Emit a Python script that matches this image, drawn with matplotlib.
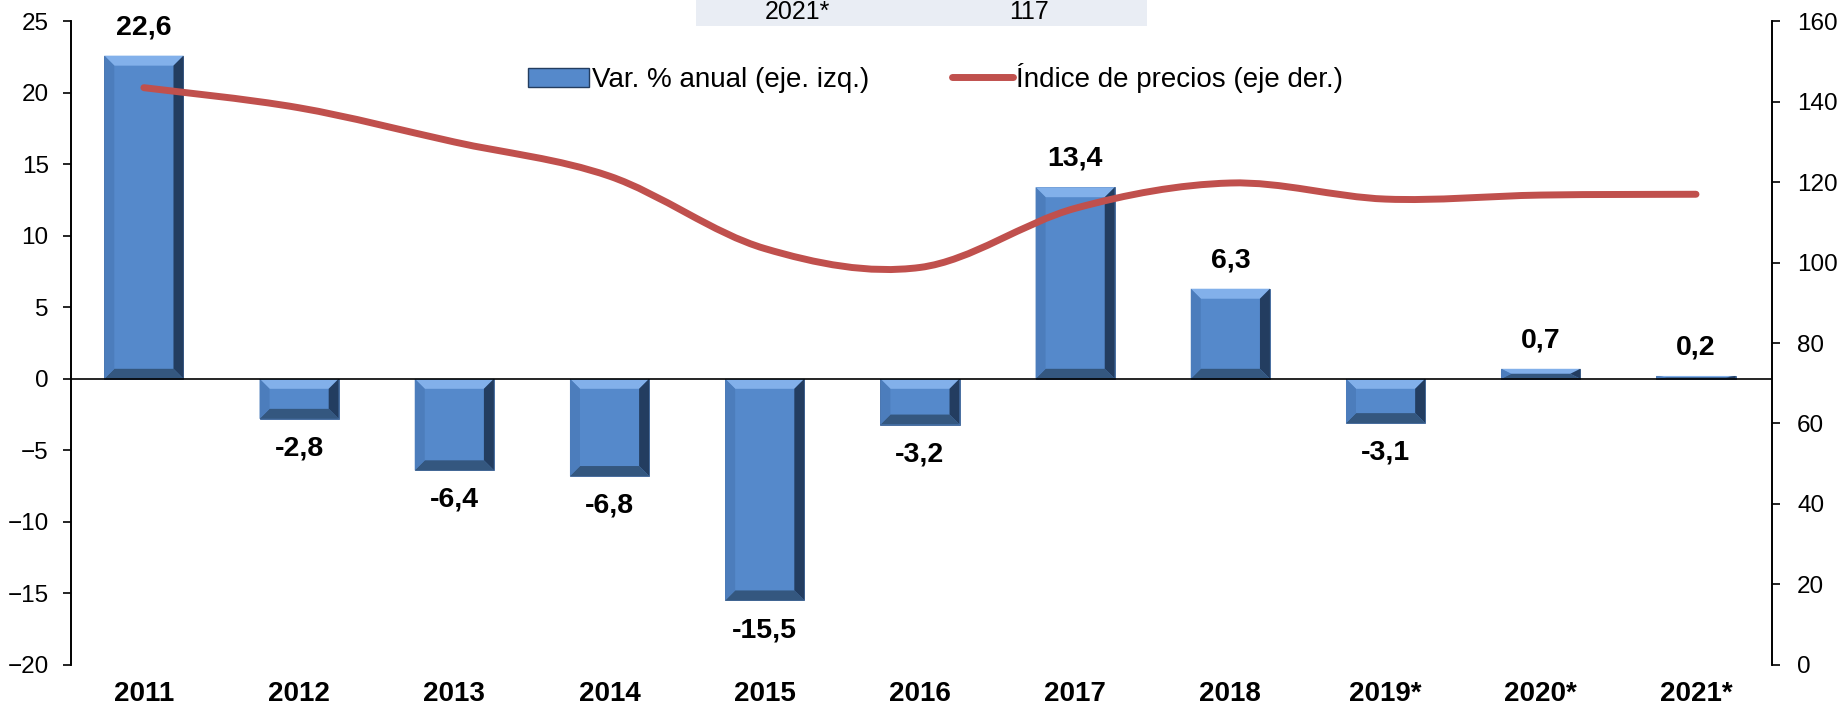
import numpy as np
import matplotlib
matplotlib.use("Agg")
import matplotlib.pyplot as plt
from matplotlib.path import Path
from matplotlib.patches import PathPatch, Rectangle, Polygon
from matplotlib.lines import Line2D

plt.rcParams['font.family'] = ['Liberation Sans', 'DejaVu Sans']

# data
years = ["2011", "2012", "2013", "2014", "2015", "2016", "2017", "2018", "2019*", "2020*", "2021*"]
var_pct = [22.6, -2.8, -6.4, -6.8, -15.5, -3.2, 13.4, 6.3, -3.1, 0.7, 0.2]
price_idx = [143.5, 138.5, 130.0, 121.5, 103.5, 98.8, 113.5, 119.8, 115.8, 116.8, 117.0]
var_labels = ["22,6", "-2,8", "-6,4", "-6,8", "-15,5", "-3,2", "13,4", "6,3", "-3,1", "0,7", "0,2"]

fig = plt.figure(figsize=(18.43, 7.11), dpi=100)
ax = fig.add_axes([0.0385, 0.065, 0.923, 0.905])
ax2 = ax.twinx()

x = np.arange(len(years))
ax.set_ylim(-20, 25)
ax.set_xlim(-0.47, 10.49)
bars = ax.bar(x, var_pct, width=0.51, color="#5589CB", edgecolor="#3B6296",
              linewidth=0.6, zorder=2)

# bevel look (about 10 px deep) on every bar
ax_w_px = 0.923 * 1843
ax_h_px = 0.905 * 711
bx_px = 10 * (10.49 + 0.47) / ax_w_px
by_px = 10 * 45.0 / ax_h_px
for b in bars:
    x0 = b.get_x()
    x1 = x0 + b.get_width()
    y0 = min(b.get_y(), b.get_y() + b.get_height())
    y1 = max(b.get_y(), b.get_y() + b.get_height())
    dy = min(by_px, (y1 - y0) / 2)
    dx = min(bx_px, (x1 - x0) / 2)
    sides = [
        ([(x0, y1), (x1, y1), (x1 - dx, y1 - dy), (x0 + dx, y1 - dy)], "#82B0EA"),
        ([(x1, y1), (x1, y0), (x1 - dx, y0 + dy), (x1 - dx, y1 - dy)], "#233D60"),
        ([(x0, y0), (x1, y0), (x1 - dx, y0 + dy), (x0 + dx, y0 + dy)], "#34577F"),
        ([(x0, y0), (x0, y1), (x0 + dx, y1 - dy), (x0 + dx, y0 + dy)], "#4C7DBC"),
    ]
    for poly, col in sides:
        ax.add_patch(Polygon(poly, closed=True, facecolor=col, edgecolor="none", zorder=3))

for xi, v, lab in zip(x, var_pct, var_labels):
    off = 11 if v >= 0 else -12
    ax.annotate(lab, (xi, v), xytext=(0, off), textcoords="offset points",
                ha="center", va="bottom" if v >= 0 else "top",
                fontsize=20.5, fontweight="bold", zorder=5)

ax.axhline(0, color="black", lw=1.2, zorder=4)
ax.set_yticks(range(-20, 26, 5))
ax.set_xticks(x)
ax.set_xticklabels(years, fontweight="bold", fontsize=20)
ax.tick_params(axis="x", length=0, pad=12)
ax.tick_params(axis="y", labelsize=17.5, length=6, width=1.2, direction="out", pad=10)

ax2.set_ylim(0, 160)
ax2.set_yticks(range(0, 161, 20))
ax2.tick_params(axis="y", labelsize=17.5, length=6, width=1.2, direction="out", pad=12)

for a in (ax, ax2):
    a.spines["top"].set_visible(False)
    a.spines["bottom"].set_visible(False)
    a.spines["left"].set_linewidth(1.2)
    a.spines["right"].set_linewidth(1.2)

# smoothed line (Catmull-Rom style, like the spreadsheet curve)
pts = np.column_stack([x, price_idx]).astype(float)
verts = [tuple(pts[0])]
codes = [Path.MOVETO]
n = len(pts)
for i in range(n - 1):
    p0 = pts[i - 1] if i > 0 else pts[i]
    p1 = pts[i]
    p2 = pts[i + 1]
    p3 = pts[i + 2] if i + 2 < n else pts[i + 1]
    c1 = p1 + (p2 - p0) / 6.0
    c2 = p2 - (p3 - p1) / 6.0
    verts += [tuple(c1), tuple(c2), tuple(p2)]
    codes += [Path.CURVE4] * 3
ax2.add_patch(PathPatch(Path(verts, codes), facecolor="none", edgecolor="#C0504D",
                        lw=5, capstyle="round", zorder=6))

ax.set_zorder(1)
ax2.set_zorder(2)
ax.patch.set_visible(False)
ax2.patch.set_visible(False)

# legend
h1 = Rectangle((0, 0), 1, 1, facecolor="#5589CB", edgecolor="#233D60")
h2 = Line2D([0], [0], color="#C0504D", lw=5, solid_capstyle="round")
fig.legend([h1, h2], ["Var. % anual (eje. izq.)", "Índice de precios (eje der.)"],
           loc="center", bbox_to_anchor=(0.5075, 0.89), ncol=2, frameon=False,
           fontsize=20, handlelength=2.2, handletextpad=0.1, columnspacing=3.0)

# leftover table row at the top
fig.patches.append(Rectangle((696 / 1843, 1 - 26 / 711), (1147 - 696) / 1843, 26 / 711,
                             transform=fig.transFigure, facecolor="#E9EDF4",
                             edgecolor="none", zorder=0))
fig.text(797 / 1843, 1 - 12 / 711, "2021*", ha="center", va="center", fontsize=18)
fig.text(1029 / 1843, 1 - 12 / 711, "117", ha="center", va="center", fontsize=18)

fig.savefig("out.png", dpi=100)
